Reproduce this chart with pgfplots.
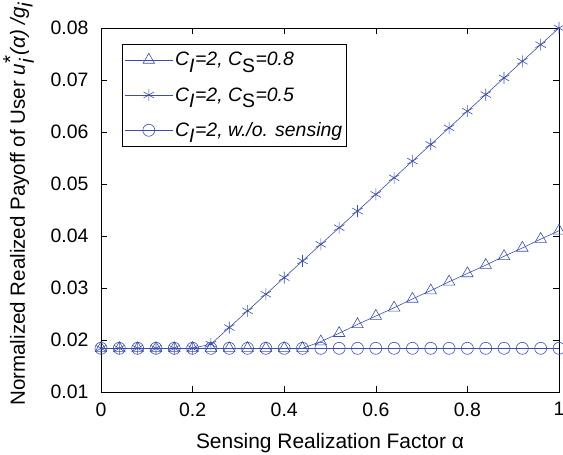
\documentclass[border=0pt]{standalone}
\usepackage{pgfplots}
\pgfplotsset{compat=1.18}
\usepackage{fontspec}
\setmainfont{Liberation Sans}
\definecolor{lineblue}{RGB}{58,78,178}

\pgfplotstableread{
a      tri     star    circ
0.00   0.0184  0.0184  0.0184
0.04   0.0184  0.0184  0.0184
0.08   0.0184  0.0184  0.0184
0.12   0.0184  0.0184  0.0184
0.16   0.0184  0.0184  0.0184
0.20   0.0184  0.0184  0.0184
0.24   0.0184  0.0192  0.0184
0.28   0.0184  0.0224  0.0184
0.32   0.0184  0.0256  0.0184
0.36   0.0184  0.0288  0.0184
0.40   0.0184  0.0320  0.0184
0.44   0.0184  0.0352  0.0184
0.48   0.0197  0.0384  0.0184
0.52   0.0213  0.0416  0.0184
0.56   0.0230  0.0448  0.0184
0.60   0.0246  0.0480  0.0184
0.64   0.0262  0.0512  0.0184
0.68   0.0279  0.0544  0.0184
0.72   0.0295  0.0576  0.0184
0.76   0.0312  0.0608  0.0184
0.80   0.0328  0.0640  0.0184
0.84   0.0344  0.0672  0.0184
0.88   0.0361  0.0704  0.0184
0.92   0.0377  0.0736  0.0184
0.96   0.0394  0.0768  0.0184
1.00   0.0410  0.0800  0.0184
}\payoff

\begin{document}
\begin{tikzpicture}
% fixed page frame
\useasboundingbox (0,0) rectangle (563bp,455bp);
\begin{axis}[
  at={(101bp,63bp)}, anchor=south west,
  scale only axis,
  width=458bp, height=364bp,
  xmin=0, xmax=1, ymin=0.01, ymax=0.08,
  xtick={0,0.2,0.4,0.6,0.8,1},
  ytick={0.01,0.02,0.03,0.04,0.05,0.06,0.07,0.08},
  xticklabels={0,0.2,0.4,0.6,0.8,1},
  yticklabels={0.01,0.02,0.03,0.04,0.05,0.06,0.07,0.08},
  scaled y ticks=false,
  tick align=inside,
  major tick length=6bp,
  tick style={black, line width=0.6pt},
  axis line style={black, line width=0.8pt},
  xticklabel style={font=\fontsize{19.5}{22}\selectfont, yshift=-7bp},
  yticklabel style={font=\fontsize{19.5}{22}\selectfont, xshift=-9bp},
  xlabel={Sensing Realization Factor α},
  ylabel={Normalized Realized Payoff of User \textit{u}$^{\textnormal{*}}_{\textit{i}}$\textit{(α) /g}$_{\textit{i}}$},
  xlabel style={font=\fontsize{21}{24}\selectfont, yshift=-10bp},
  ylabel style={font=\fontsize{20.6}{24}\selectfont, at={(ticklabel cs:0.517,10bp)}},
  clip=false,
  legend cell align=left,
  legend style={at={(0.0459,0.956)}, anchor=north west, draw=black,
    line width=0.8pt, font=\fontsize{19.5}{22}\selectfont\itshape,
    inner xsep=2bp, inner ysep=6bp, row sep=16bp},
  legend image code/.code={
    \draw[#1, mark repeat=2, mark phase=2] plot coordinates {(0cm,0cm) (0.85cm,0cm) (1.7cm,0cm)};},
  every axis plot/.append style={lineblue, line width=0.6pt},
]
\addplot[mark=triangle, mark size=6.6bp, mark options={solid}] table[x=a, y=tri] {\payoff};
\addlegendentry{C$_{\textit{I}}$=2, C$_{\textnormal{S}}$=0.8}
\addplot[mark=asterisk, mark size=6bp] table[x=a, y=star] {\payoff};
\addlegendentry{C$_{\textit{I}}$=2, C$_{\textnormal{S}}$=0.5}
\addplot[mark=o, mark size=6bp] table[x=a, y=circ] {\payoff};
\addlegendentry{C$_{\textit{I}}$=2, w./o. sensing}
\end{axis}
\end{tikzpicture}
\end{document}
